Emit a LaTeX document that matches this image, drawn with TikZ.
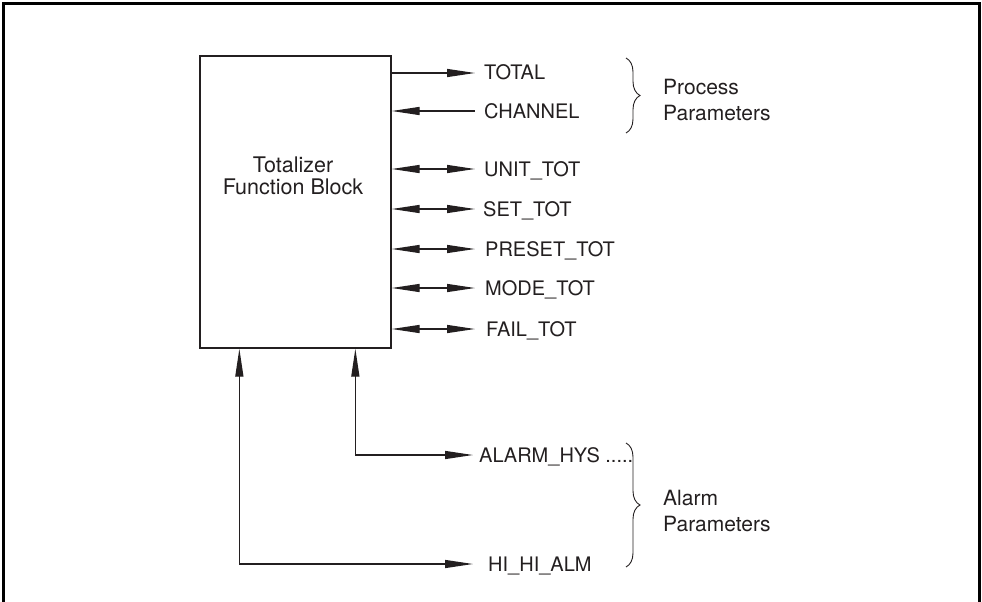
\documentclass[tikz,border=0pt]{standalone}
\usepackage{fontspec}
\setmainfont{TeX Gyre Heros}
\usetikzlibrary{arrows.meta,decorations.pathreplacing,calc}
\definecolor{ink}{HTML}{231F20}
\begin{document}
\begin{tikzpicture}[x=1pt,y=-1pt,
  >={Triangle[length=28pt,width=8pt]},
  conn/.style={draw=ink, line width=1.3pt},
  lbl/.style={inner sep=0pt, anchor=west, text=ink,
    font=\fontsize{20}{23}\selectfont, text height=14pt, text depth=0pt},
  grp/.style={inner sep=0pt, anchor=west, align=left, text=ink,
    font=\fontsize{21}{26}\selectfont},
  bracestyle/.style={draw=ink, line width=0.9pt, decorate,
    decoration={brace, amplitude=14pt}}
]
\useasboundingbox (0,0) rectangle (982,602);
% frame
\draw[line width=3pt] (3.5,602) -- (3.5,4) -- (979,4) -- (979,602);
% block
\node[draw=ink, line width=1.3pt, minimum width=191pt, minimum height=292pt, inner sep=0pt] (tfb) at (295.5,202) {};
\node[align=center, text=ink, font=\fontsize{21.5}{22}\selectfont, inner sep=0pt] (tfbl) at (293,176) {Totalizer\\Function Block};
% labels
\node[lbl] (total) at (484,73) {TOTAL};
\node[lbl] (channel) at (484,111) {CHANNEL};
\node[lbl] (unit) at (484,169) {UNIT\_TOT};
\node[lbl] (set) at (483,209) {SET\_TOT};
\node[lbl] (preset) at (485,249) {PRESET\_TOT};
\node[lbl] (mode) at (485,288) {MODE\_TOT};
\node[lbl] (fail) at (486,329) {FAIL\_TOT};
\node[lbl] (hys) at (479,455) {ALARM\_HYS .....};
\node[lbl] (hihi) at (488,564) {HI\_HI\_ALM};
% connectors
\draw[conn,->] (tfb.east |- total.west) -- ($(total.west)+(-9,0)$);
\draw[conn,<-] (tfb.east |- channel.west) -- ($(channel.west)+(-9,0)$);
\draw[conn,<->] (tfb.east |- unit.west) -- ($(unit.west)+(-9,0)$);
\draw[conn,<->] (tfb.east |- set.west) -- ($(set.west)+(-8,0)$);
\draw[conn,<->] (tfb.east |- preset.west) -- ($(preset.west)+(-10,0)$);
\draw[conn,<->] (tfb.east |- mode.west) -- ($(mode.west)+(-10,0)$);
\draw[conn,<->] (tfb.east |- fail.west) -- ($(fail.west)+(-11,0)$);
\draw[conn,<->] ([xshift=156pt]tfb.south west) |- ($(hys.west)+(-6,0)$);
\draw[conn,<->] ([xshift=40pt]tfb.south west) |- ($(hihi.west)+(-15,0)$);
% braces
\draw[bracestyle] (626,58) -- (626,133);
\draw[bracestyle] (626,443) -- (626,567);
\node[grp] (proc) at (663,100) {Process\\Parameters};
\node[grp] (alarm) at (663,511) {Alarm\\Parameters};
\end{tikzpicture}
\end{document}
